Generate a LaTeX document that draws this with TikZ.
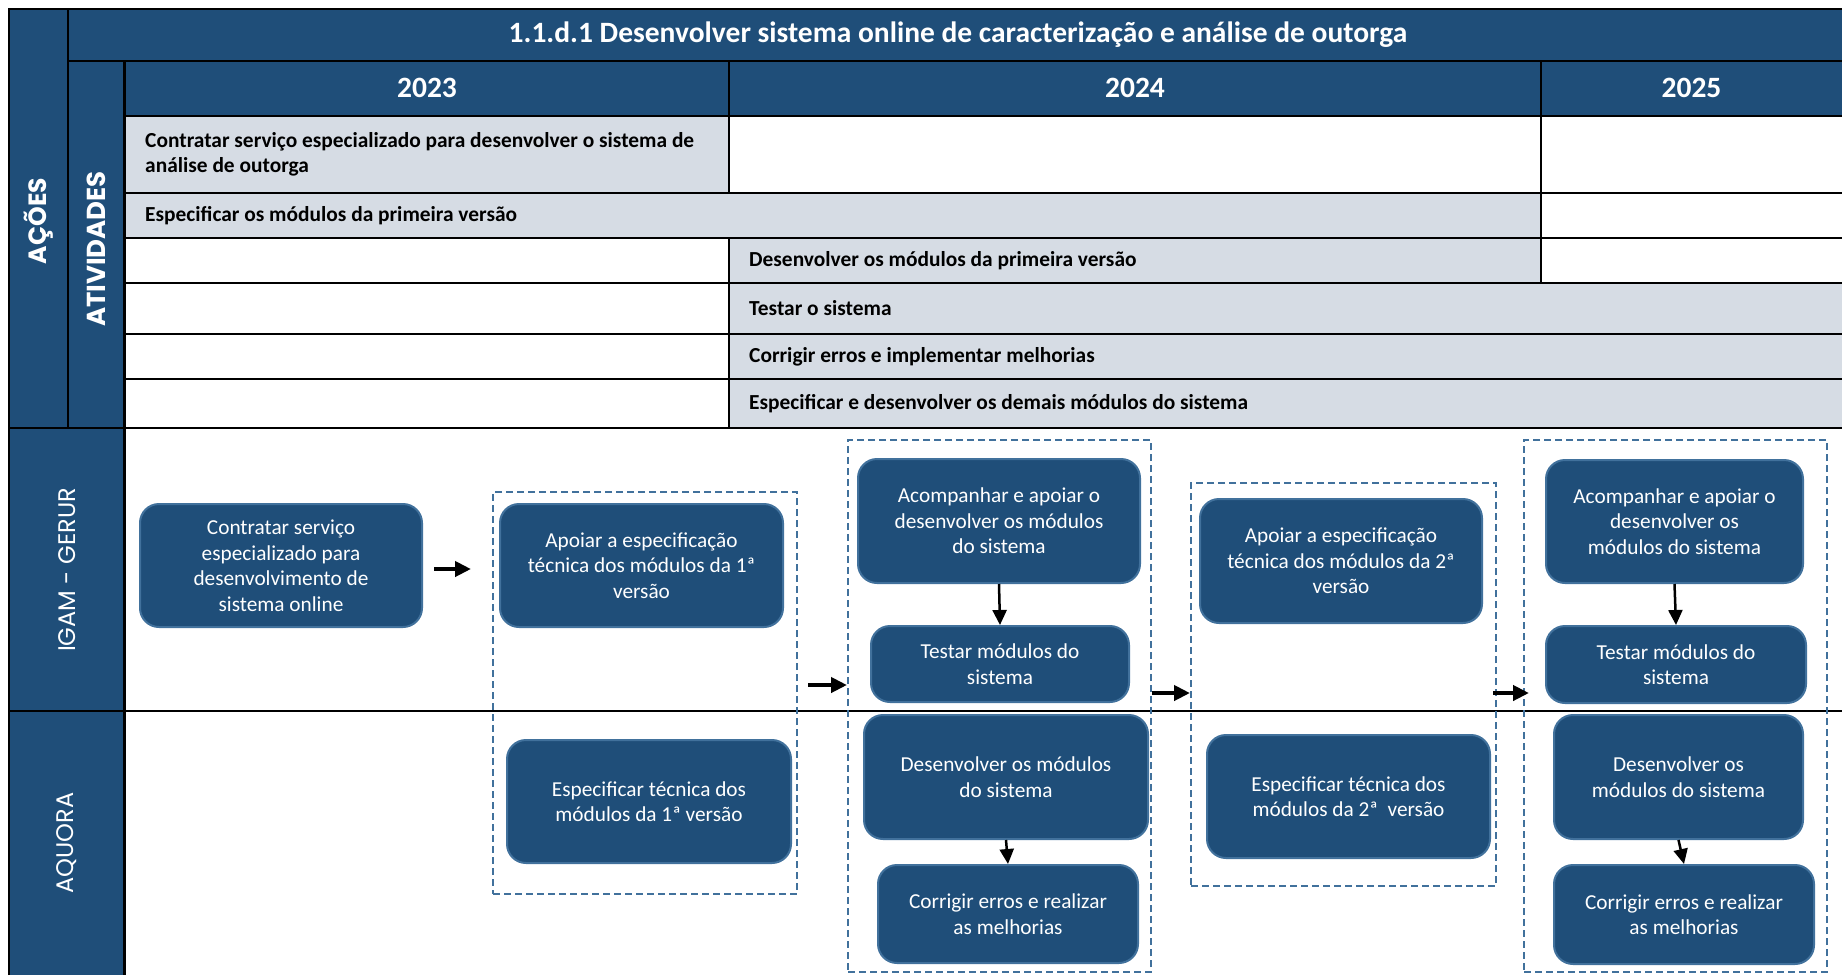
\documentclass[tikz,border=0pt]{standalone}
\usepackage{fontspec}
\usepackage{xcolor}
\setmainfont{Carlito}
\newfontfamily\raiafont{Poppins}
\usetikzlibrary{positioning, arrows.meta}

\definecolor{azulescuro}{HTML}{1F4E79}
\definecolor{azulborda}{HTML}{41719C}
\definecolor{cinzaclaro}{HTML}{D6DCE4}

\begin{document}
\begin{tikzpicture}[
    x = 1pt,
    y = -1pt,
    grade/.style = {line width=2.5pt},
    cabecalho/.style = {text=white, font=\bfseries\fontsize{29.5}{32}\selectfont},
    atividade/.style = {anchor=west, align=left, inner sep=0pt, font=\bfseries\fontsize{21.4}{25}\selectfont},
    raia/.style = {rotate=90, text=white, font=\raiafont\fontsize{24}{28}\selectfont},
    tarefa/.style = {draw=azulborda, fill=azulescuro, line width=2pt, rounded corners=19pt,
      text=white, align=center, inner sep=0pt, font=\fontsize{21.3}{25.5}\selectfont},
    grupo/.style = {draw=azulborda, line width=2pt, dash pattern=on 7pt off 4pt, inner sep=0pt},
    seta/.style = {-{Triangle[length=16pt, width=15pt]}, line width=4pt},
    setafina/.style = {-{Triangle[length=15pt, width=14pt]}, line width=2.5pt},
  ]
  \useasboundingbox (0,0) rectangle (1842,975);

  % Table of actions and activities
  \fill[azulescuro] (9,9) rectangle (1842,116);
  \fill[azulescuro] (9,9) rectangle (124.5,975);
  \fill[cinzaclaro] (124.5,116) rectangle (729,193);
  \fill[cinzaclaro] (124.5,193) rectangle (1541,238);
  \fill[cinzaclaro] (729,238) rectangle (1541,283);
  \fill[cinzaclaro] (729,283) rectangle (1842,428);

  \draw[grade] (9,975) -- (9,9) -- (1842,9);
  \draw[grade] (68,9) -- (68,428);
  \draw[grade] (68,61) -- (1842,61);
  \draw[grade] (124.5,61) -- (124.5,975);
  \foreach \y in {116,193,238,283,334,379}
    \draw[grade] (124.5,\y) -- (1842,\y);
  \draw[grade] (729,61) -- (729,193);
  \draw[grade] (729,238) -- (729,428);
  \draw[grade] (1541,61) -- (1541,283);
  \draw[grade] (9,428) -- (1842,428);
  \draw[line width=2pt] (9,711) -- (1842,711);

  \node[cabecalho] (titulo) at (958,35)
    {1.1.d.1 Desenvolver sistema online de caracterização e análise de outorga};
  \node[cabecalho] (ano23) at (427,88) {2023};
  \node[cabecalho] (ano24) at (1135,88) {2024};
  \node[cabecalho] (ano25) at (1691.5,88) {2025};

  \node[raia, font=\raiafont\bfseries\fontsize{25}{28}\selectfont] (acoes) at (38.5,221) {AÇÕES};
  \node[raia, font=\raiafont\bfseries\fontsize{26}{28}\selectfont] (ativ) at (96,249) {ATIVIDADES};

  \node[atividade] (at1) at (145,154.5)
    {Contratar serviço especializado para desenvolver o sistema de\\análise de outorga};
  \node[atividade] (at2) at (145,215.5) {Especificar os módulos da primeira versão};
  \node[atividade] (at3) at (749,260.5) {Desenvolver os módulos da primeira versão};
  \node[atividade] (at4) at (749,308.5) {Testar o sistema};
  \node[atividade] (at5) at (749,356.5) {Corrigir erros e implementar melhorias};
  \node[atividade] (at6) at (749,403.5) {Especificar e desenvolver os demais módulos do sistema};

  % Lanes
  \node[raia] (igam) at (67,570) {IGAM - GERUR};
  \node[raia] (aquora) at (67,843) {AQUORA};

  % Groups
  \node[grupo, minimum width=304pt, minimum height=402pt] (grp1) at (645,693) {};
  \node[grupo, minimum width=303pt, minimum height=532pt] (grp2) at (999.5,706) {};
  \node[grupo, minimum width=305pt, minimum height=403pt] (grp3) at (1343.5,684.5) {};
  \node[grupo, minimum width=303pt, minimum height=532pt] (grp4) at (1675.5,706) {};

  % Tasks
  \node[tarefa, minimum width=282pt, minimum height=123pt] (ctr) at (281,565.5)
    {Contratar serviço\\especializado para\\desenvolvimento de\\sistema online};
  \node[tarefa, minimum width=283pt, minimum height=123pt] (apo1) at (641.5,565.5)
    {Apoiar a especificação\\técnica dos módulos da 1ª\\versão};
  \node[tarefa, minimum width=284pt, minimum height=123pt] (esp1) at (649,801.5)
    {Especificar técnica dos\\módulos da 1ª versão};
  \node[tarefa, minimum width=282pt, minimum height=124pt] (acp1) at (999,521)
    {Acompanhar e apoiar o\\desenvolver os módulos\\do sistema};
  \node[tarefa, minimum width=258pt, minimum height=76pt, below=41pt of acp1.south, anchor=north,
    xshift=1pt] (tst1) {Testar módulos do\\sistema};
  \node[tarefa, minimum width=284pt, minimum height=124pt] (dev1) at (1006,777)
    {Desenvolver os módulos\\do sistema};
  \node[tarefa, minimum width=260pt, minimum height=98pt, below=24pt of dev1.south, anchor=north,
    xshift=2pt] (cor1) {Corrigir erros e realizar\\as melhorias};
  \node[tarefa, minimum width=282pt, minimum height=124pt] (apo2) at (1341,561)
    {Apoiar a especificação\\técnica dos módulos da 2ª\\versão};
  \node[tarefa, minimum width=283pt, minimum height=123pt] (esp2) at (1348.5,796.5)
    {Especificar técnica dos\\módulos da 2ª~ versão};
  \node[tarefa, minimum width=257pt, minimum height=123pt] (acp2) at (1674.5,521.5)
    {Acompanhar e apoiar o\\desenvolver os\\módulos do sistema};
  \node[tarefa, minimum width=260pt, minimum height=77pt, below=41pt of acp2.south, anchor=north,
    xshift=1.5pt] (tst2) {Testar módulos do\\sistema};
  \node[tarefa, minimum width=249pt, minimum height=124pt] (dev2) at (1678.5,777)
    {Desenvolver os\\módulos do sistema};
  \node[tarefa, minimum width=260pt, minimum height=99pt, below=24pt of dev2.south, anchor=north,
    xshift=5.5pt] (cor2) {Corrigir erros e realizar\\as melhorias};

  % Connectors
  \coordinate (nivA) at (0,569);
  \coordinate (nivB) at (0,685);
  \coordinate (nivC) at (0,693);
  \draw[seta, shorten <=11pt, shorten >=21pt] (ctr.east |- nivA) -- (grp1.west |- nivA);
  \draw[seta, shorten <=10pt] (grp1.east |- nivB) -- (grp2.west |- nivB);
  \draw[seta] (grp2.east |- nivC) -- (grp3.west |- nivC);
  \draw[seta, shorten <=-4pt, shorten >=-6pt] (grp3.east |- nivC) -- (grp4.west |- nivC);
  \draw[setafina] (acp1.south) -- (tst1.north);
  \draw[setafina] (dev1.south) -- (cor1.north);
  \draw[setafina] (acp2.south) -- (tst2.north);
  \draw[setafina] (dev2.south) -- (cor2.north);
\end{tikzpicture}
\end{document}
